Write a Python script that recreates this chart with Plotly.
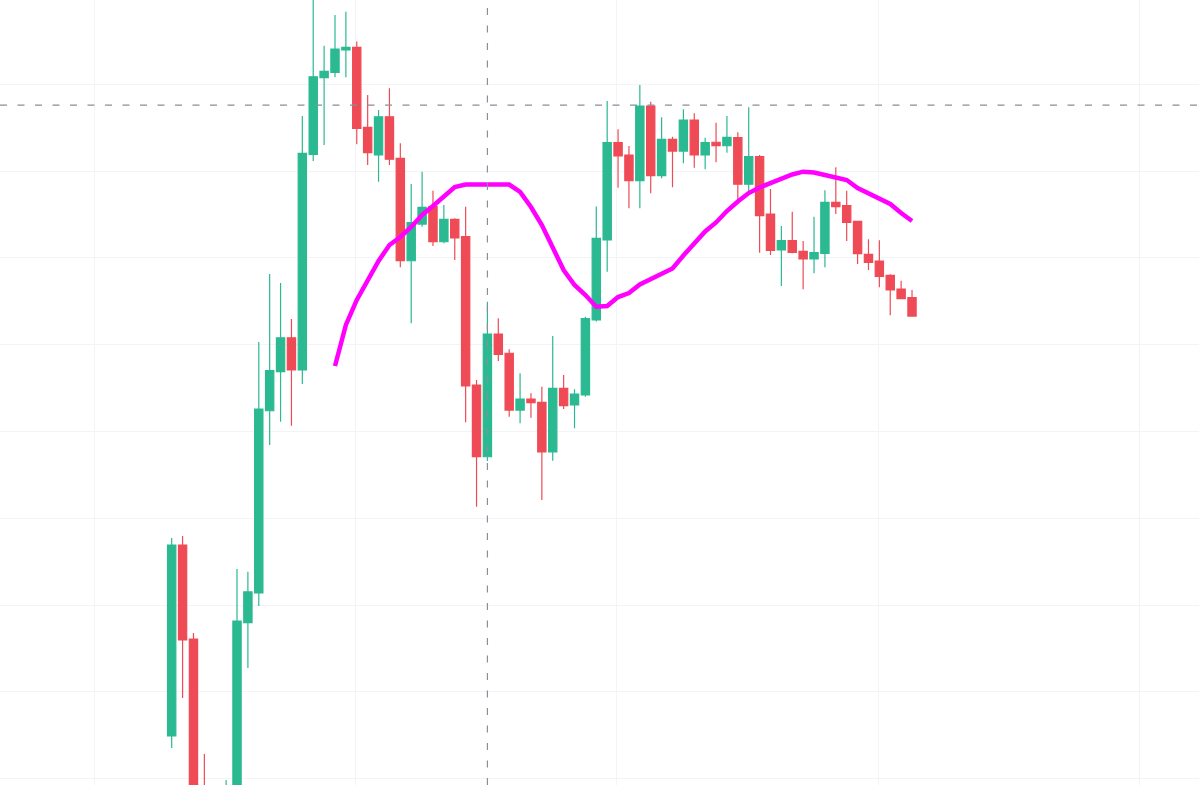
import plotly.graph_objects as go

# candle index (time slots)
idx = list(range(69))

opens = [104.93, 126.93, 116.10, 98.00, 94.50, 95.50, 98.30, 117.98, 121.40, 142.40,
         146.90, 150.81, 147.09, 171.94, 180.77, 181.39, 183.96, 184.27, 175.05, 171.86,
         176.27, 171.48, 159.68, 163.91, 165.91, 161.87, 164.45, 162.45, 145.36, 137.10,
         151.24, 149.02, 142.48, 143.75, 143.37, 137.65, 144.98, 143.06, 144.21, 152.85,
         162.07, 173.28, 171.86, 168.90, 177.51, 169.48, 173.67, 172.32, 175.89, 171.86,
         173.33, 172.93, 173.86, 168.49, 171.67, 165.06, 160.92, 161.99, 160.77, 159.88,
         160.54, 166.41, 166.02, 164.22, 160.42, 159.65, 158.00, 156.42, 155.42]
highs = [127.74, 127.97, 116.79, 102.85, 98.60, 99.86, 124.17, 123.85, 150.32, 158.15,
         157.12, 152.97, 176.36, 191.00, 184.45, 187.99, 188.37, 184.94, 178.78, 177.05,
         179.55, 173.21, 168.52, 169.94, 167.75, 166.10, 164.57, 165.91, 145.94, 154.96,
         153.05, 149.48, 146.71, 144.41, 145.17, 151.01, 146.52, 144.87, 153.23, 165.93,
         178.08, 174.82, 172.90, 179.93, 178.00, 176.21, 173.97, 177.13, 176.67, 173.86,
         175.58, 176.36, 174.48, 177.36, 171.86, 167.95, 163.68, 165.33, 161.95, 164.75,
         167.80, 170.45, 167.75, 164.29, 162.15, 162.03, 158.12, 157.38, 156.31]
lows = [103.54, 109.30, 96.80, 94.20, 93.50, 94.80, 97.60, 112.76, 119.90, 138.45,
        141.14, 140.67, 145.48, 171.17, 173.01, 180.81, 180.81, 173.10, 170.71, 168.79,
        170.71, 158.92, 152.47, 163.60, 161.38, 161.69, 159.77, 141.07, 131.34, 136.61,
        148.13, 141.71, 140.95, 141.60, 132.11, 136.64, 142.60, 140.38, 144.02, 152.68,
        158.42, 168.10, 165.72, 165.72, 167.45, 169.18, 168.14, 170.91, 170.40, 170.22,
        171.02, 172.13, 166.68, 167.63, 160.61, 160.34, 156.77, 160.54, 156.39, 158.23,
        158.92, 165.06, 161.95, 159.30, 158.61, 156.62, 153.39, 155.31, 153.31]
closes = [126.93, 115.99, 97.50, 95.00, 96.50, 98.50, 118.17, 121.52, 142.60, 147.01,
          150.81, 147.09, 172.06, 180.88, 181.51, 184.07, 184.27, 174.94, 172.13, 176.27,
          171.37, 159.68, 164.06, 165.84, 161.87, 164.45, 162.30, 145.25, 137.10, 151.24,
          148.90, 142.48, 143.75, 143.32, 137.65, 144.98, 142.98, 144.33, 153.00, 162.27,
          173.28, 171.75, 168.90, 177.51, 169.48, 173.67, 172.32, 175.89, 171.86, 173.28,
          172.93, 173.90, 168.49, 171.67, 164.87, 160.88, 161.99, 160.65, 159.88, 160.61,
          166.41, 165.91, 164.11, 160.49, 159.50, 157.89, 156.31, 155.31, 153.31]

# moving-average line (starts at candle 15)
ma = [None] * 15 + [
    147.55, 152.28, 155.16, 157.46, 159.65, 161.49, 162.42, 163.57, 164.95, 165.99,
    167.14, 168.18, 168.46, 168.49, 168.49, 168.49, 168.46, 167.60, 165.87, 163.80,
    161.15, 158.61, 156.89, 155.73, 154.38, 154.47, 155.50, 155.96, 156.94, 157.58,
    158.12, 158.79, 160.28, 161.72, 163.05, 164.09, 165.41, 166.51, 167.48, 168.12,
    168.64, 169.16, 169.62, 169.94, 169.85, 169.56, 169.27, 168.98, 168.06, 167.48,
    166.79, 166.22, 165.18, 164.26]

crosshair_x = 29
crosshair_y = 177.62

UP = "#2bb992"
DOWN = "#ef4b56"

fig = go.Figure()
fig.add_trace(go.Candlestick(
    x=idx, open=opens, high=highs, low=lows, close=closes,
    increasing=dict(line=dict(color=UP, width=1.2), fillcolor=UP),
    decreasing=dict(line=dict(color=DOWN, width=1.2), fillcolor=DOWN),
    whiskerwidth=0, showlegend=False, hoverinfo="skip",
))
fig.add_trace(go.Scatter(
    x=idx, y=ma, mode="lines",
    line=dict(color="#ff00ff", width=4.5, shape="linear"),
    showlegend=False, hoverinfo="skip", connectgaps=False,
))

fig.add_shape(type="line", xref="x", yref="paper", x0=crosshair_x, x1=crosshair_x,
              y0=0, y1=1, line=dict(color="#8a8e9b", width=1.2, dash="7px,10.5px"),
              layer="above")
fig.add_shape(type="line", xref="paper", yref="y", x0=0, x1=1,
              y0=crosshair_y, y1=crosshair_y,
              line=dict(color="#8a8e9b", width=1.2, dash="7px,10.5px"),
              layer="above")

fig.update_layout(
    width=1199, height=785,
    margin=dict(l=0, r=0, t=0, b=0),
    paper_bgcolor="white", plot_bgcolor="white",
    boxgap=0.24, boxgroupgap=0,
    xaxis=dict(range=[-15.77, 94.36], rangeslider=dict(visible=False),
               showticklabels=False, zeroline=False, showline=False,
               tickmode="array", tickvals=[-7.1, 16.9, 40.9, 64.9, 88.9],
               gridcolor="#f3f4f7", gridwidth=1, ticks=""),
    yaxis=dict(range=[99.28, 189.72], showticklabels=False, zeroline=False,
               showline=False, dtick=10, tick0=100, gridcolor="#f3f4f7",
               gridwidth=1, ticks=""),
    hovermode=False,
)

fig.write_html("out.html", config={"displayModeBar": False},
               post_script="document.body.style.margin='0';document.body.style.overflow='hidden';")
